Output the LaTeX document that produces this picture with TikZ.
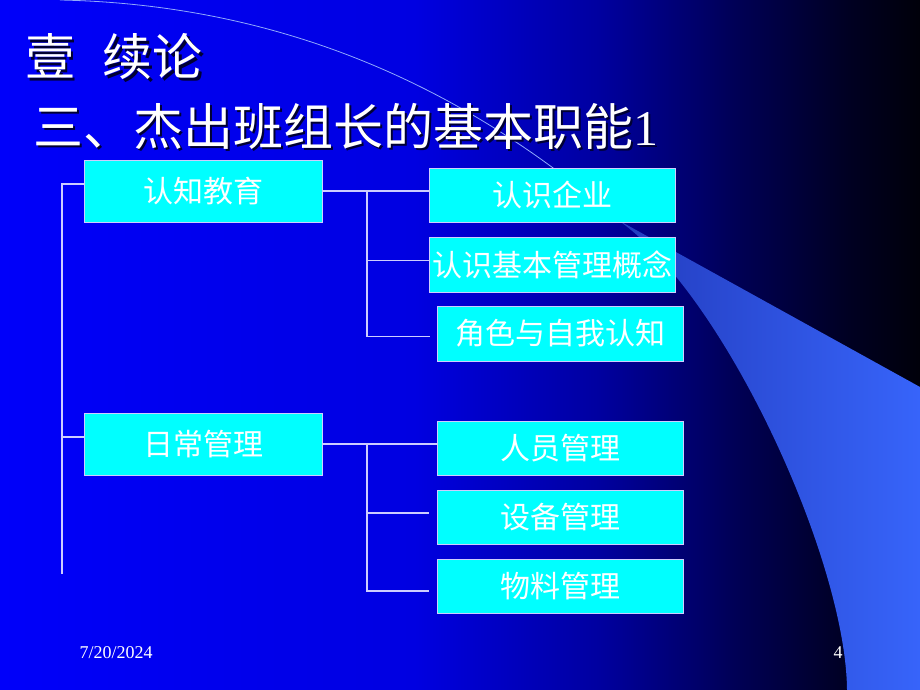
\documentclass[tikz,border=0pt]{standalone}
\usepackage{fontspec}
\setmainfont{Liberation Serif}
\newfontfamily\cjk{Noto Sans CJK SC}
\usepackage{tikz}

\definecolor{bgA}{RGB}{0,0,250}
\definecolor{bgB}{RGB}{0,0,225}
\definecolor{bgC}{RGB}{0,0,160}
\definecolor{bgD}{RGB}{0,0,85}
\definecolor{bgE}{RGB}{0,0,35}
\definecolor{bgF}{RGB}{0,0,10}
\definecolor{wedgeA}{RGB}{35,60,190}
\definecolor{wedgeB}{RGB}{55,100,250}
\definecolor{boxcyan}{RGB}{0,255,255}
\definecolor{linelav}{RGB}{205,205,255}

\pgfdeclarehorizontalshading{slidebg}{100bp}{color(0bp)=(bgA); color(25bp)=(bgA);
  color(47.5bp)=(bgB); color(57.5bp)=(bgC); color(65bp)=(bgD); color(71bp)=(bgE);
  color(75bp)=(bgF); color(100bp)=(bgF)}

\newcommand{\dropshadow}[1]{\leavevmode\rlap{\hspace{2.5pt}\raisebox{-2.5pt}{\color{black!80!blue}#1}}#1}

\tikzset{
  itembox/.style={draw=linelav, line width=0.8pt, fill=boxcyan, text=white,
    font=\cjk\fontsize{30}{32}\selectfont, inner sep=0pt},
  conn/.style={draw=linelav, line width=1.2pt},
  heading/.style={text=white, inner sep=0pt, anchor=base west}
}

\begin{document}
\begin{tikzpicture}[x=1pt,y=-1pt]
\useasboundingbox (0,0) rectangle (920,690);
% slide background
\shade[shading=slidebg] (0,0) rectangle (920,690);
\shade[left color=wedgeA, right color=wedgeB] (618,220) -- (920,387) -- (920,690) -- (847,690)
  .. controls (846,560) and (725,295) .. (618,220) -- cycle;
\draw[line width=0.8pt, color=wedgeB!55!white] (60,0) .. controls (300,5) and (480,100) .. (618,220);

% titles
\node[heading, font=\cjk\fontsize{50}{52}\selectfont] (title) at (25,76) {\dropshadow{壹\hspace{0.55em}续论}};
\node[heading, font=\cjk\fontsize{50}{52}\selectfont] (subtitle) at (33,145) {\dropshadow{三、杰出班组长的基本职能{\rmfamily 1}}};

% boxes
\node[itembox, minimum width=238pt, minimum height=62pt] (edu) at (203,191) {认知教育};
\node[itembox, minimum width=246pt, minimum height=54pt] (qiye) at (552,195) {认识企业};
\node[itembox, minimum width=246pt, minimum height=55pt] (gainian) at (552,264.5) {认识基本管理概念};
\node[itembox, minimum width=246pt, minimum height=55pt] (juese) at (560,333.5) {角色与自我认知};
\node[itembox, minimum width=238pt, minimum height=62pt] (daily) at (203,444) {日常管理};
\node[itembox, minimum width=246pt, minimum height=54pt] (renyuan) at (560,448) {人员管理};
\node[itembox, minimum width=246pt, minimum height=54pt] (shebei) at (560,517) {设备管理};
\node[itembox, minimum width=246pt, minimum height=54pt] (wuliao) at (560,586) {物料管理};

% connectors
\coordinate (spinebot) at (62,574);
\coordinate (edubus) at (367,191);
\coordinate (dailybus) at (367,443);
\draw[conn] ([yshift=7pt]edu.west) -| (spinebot);
\draw[conn] ([yshift=7pt]daily.west) -| (spinebot);
\draw[conn] (edu.east) -- (edu.east -| qiye.west);
\draw[conn] (edubus) |- ([xshift=-7pt,yshift=-3pt]juese.west);
\draw[conn] ([yshift=4pt]gainian.west) -| (edubus);
\draw[conn] (daily.east) -- (daily.east -| renyuan.west);
\draw[conn] (dailybus) |- ([xshift=-8pt,yshift=-5pt]wuliao.west);
\draw[conn] ([xshift=-8pt,yshift=4pt]shebei.west) -| (dailybus);

% footer
\node[text=white, font=\fontsize{18}{20}\selectfont] (date) at (116,653) {7/20/2024};
\node[text=white, font=\fontsize{18}{20}\selectfont] (page) at (838,653) {4};
\end{tikzpicture}
\end{document}
